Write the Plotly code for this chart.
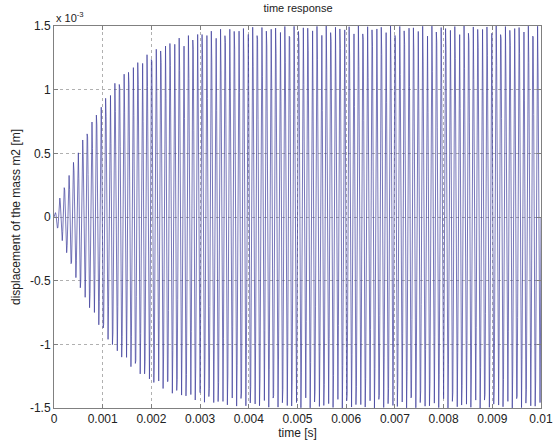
import numpy as np
import plotly.graph_objects as go

# Envelope of the displacement (time in s, amplitude in 1e-3 m)
env_t = [0.0, 0.00012, 0.00025, 0.00037, 0.0005, 0.00062, 0.00075, 0.00088, 0.001,
         0.00125, 0.0015, 0.00175, 0.002, 0.0025, 0.003, 0.0035, 0.004, 0.005, 0.006, 0.01]
env_a = [0.0, 0.15, 0.27, 0.40, 0.53, 0.63, 0.73, 0.82, 0.90,
         1.05, 1.15, 1.23, 1.30, 1.40, 1.45, 1.48, 1.49, 1.50, 1.50, 1.50]
carrier_hz = 10600.0          # oscillation frequency read from the cycle spacing
sample_dt = 1e-5              # simulation output step

x_ticks = [0, 0.001, 0.002, 0.003, 0.004, 0.005, 0.006, 0.007, 0.008, 0.009, 0.01]
x_tick_text = ["0", "0.001", "0.002", "0.003", "0.004", "0.005", "0.006", "0.007", "0.008", "0.009", "0.01"]
y_ticks = [-1.5, -1, -0.5, 0, 0.5, 1, 1.5]
y_tick_text = ["-1.5", "-1", "-0.5", "0", "0.5", "1", "1.5"]

t = np.arange(0, 0.01 + sample_dt / 2, sample_dt)
amp = np.interp(t, env_t, env_a)
y = amp * np.sin(2 * np.pi * carrier_hz * t)

FONT = "Liberation Sans, Arial"

fig = go.Figure()
fig.add_trace(go.Scatter(x=t, y=y, mode="lines",
                         line=dict(color="rgb(60,60,155)", width=0.7),
                         hoverinfo="skip"))

axis_common = dict(showline=True, linecolor="#808080", linewidth=1, mirror="ticks",
                   ticks="inside", ticklen=4, tickcolor="#808080", automargin=False,
                   showgrid=True, gridcolor="#b0b0b0", griddash="dot", gridwidth=1,
                   zeroline=False, tickfont=dict(family=FONT, size=12, color="#222"))

fig.update_layout(
    width=557, height=441,
    margin=dict(l=54, r=16, t=26, b=33, autoexpand=False),
    paper_bgcolor="white", plot_bgcolor="white",
    showlegend=False,
    title=dict(text="time response", x=0.535, xanchor="center", y=0.99, yanchor="top",
               font=dict(family=FONT, size=11, color="#222")),
    xaxis=dict(range=[0, 0.01], tickvals=x_ticks, ticktext=x_tick_text,
               title=dict(text="time [s]", standoff=1,
                          font=dict(family=FONT, size=12, color="#222")),
               **axis_common),
    yaxis=dict(range=[-1.5, 1.5], tickvals=y_ticks, ticktext=y_tick_text,
               title=dict(text="displacement of the mass m2 [m]", standoff=6,
                          font=dict(family=FONT, size=12, color="#222")),
               **axis_common),
    annotations=[dict(text="x 10<sup>-3</sup>", xref="paper", yref="paper", x=0.0, y=1.0,
                      xanchor="left", yanchor="bottom", showarrow=False, xshift=0,
                      font=dict(family=FONT, size=11, color="#222"))],
)

fig.write_html("out.html", config={"displayModeBar": False},
               post_script="document.body.style.margin='0';")
